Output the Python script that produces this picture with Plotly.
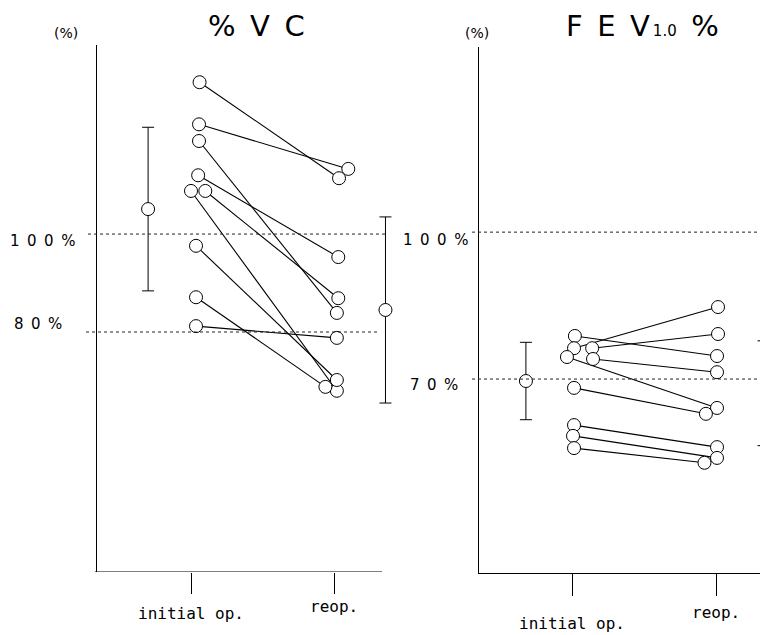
import plotly.graph_objects as go

# ---------------- data ----------------
categories = ["initial op.", "reop."]

# %VC panel (paired patients)
vc_initial = [131.0, 122.4, 119.0, 112.0, 108.8, 108.8, 97.6, 87.1, 81.2]
vc_reop = [111.4, 113.3, 83.9, 95.3, 68.0, 86.9, 70.2, 68.8, 78.8]
vc_initial_x = [1.06, 1.056, 1.056, 1.05, 1.0, 1.10, 1.035, 1.035, 1.035]
vc_reop_x = [2.035, 2.10, 2.02, 2.03, 2.02, 2.03, 2.02, 1.94, 2.02]
vc_mean = [105.1, 84.5]
vc_sd = [16.7, 19.0]
vc_mean_x = [0.70, 2.36]
vc_ref = [100, 80]
vc_ref_labels = ["1\u20020\u20020\u2002%", "8\u20020\u2002%"]

# FEV1.0% panel (paired patients)
fev_initial = [78.8, 76.3, 74.5, 76.3, 74.1, 68.2, 60.6, 58.4, 55.9]
fev_reop = [74.7, 84.7, 64.1, 79.2, 71.4, 62.9, 56.1, 53.9, 52.9]
fev_initial_x = [1.02, 1.014, 0.965, 1.14, 1.146, 1.014, 1.014, 1.007, 1.014]
fev_reop_x = [2.007, 2.014, 2.007, 2.014, 2.007, 1.93, 2.007, 2.007, 1.92]
fev_mean = [69.6, 67.1]
fev_sd = [7.9, 10.7]
fev_mean_x = [0.68, 2.33]
fev_ref = [100, 70]
fev_ref_labels = ["1\u20020\u20020\u2002%", "7\u20020\u2002%"]

W, H = 760, 635


def px(x):
    return x / W


def py(y):
    return 1 - y / H


fig = go.Figure()

LINE = dict(color="black", width=1.1)
MARK = dict(symbol="circle", size=13, color="white", line=dict(color="black", width=1.0))


def add_panel(xa, ya, xi, yi, xr, yr, mx, mm, msd):
    for a, b, c, d in zip(xi, yi, xr, yr):
        fig.add_trace(go.Scatter(x=[a, c], y=[b, d], mode="lines", line=LINE,
                                 xaxis=xa, yaxis=ya, hoverinfo="skip", cliponaxis=False))
    fig.add_trace(go.Scatter(x=list(xi) + list(xr), y=list(yi) + list(yr), mode="markers",
                             marker=MARK, xaxis=xa, yaxis=ya, cliponaxis=False))
    fig.add_trace(go.Scatter(x=mx, y=mm, mode="markers", marker=MARK,
                             error_y=dict(type="data", array=msd, color="black", thickness=1.0, width=6),
                             xaxis=xa, yaxis=ya, cliponaxis=False))


add_panel("x", "y", vc_initial_x, vc_initial, vc_reop_x, vc_reop, vc_mean_x, vc_mean, vc_sd)
add_panel("x2", "y2", fev_initial_x, fev_initial, fev_reop_x, fev_reop, fev_mean_x, fev_mean, fev_sd)

axis_common = dict(showgrid=False, zeroline=False, linecolor="black", linewidth=1.2)

# left panel x domain is wider than its drawn base line so the right mean bar fits
L_X0, L_X1 = 97, 405
L_R0 = 1 - (191 - L_X0) / 143.0
L_R1 = 2 + (L_X1 - 334) / 143.0
R_X0, R_X1 = 479, W
R_R0 = 1 - (572 - R_X0) / 144.0
R_R1 = 2 + (R_X1 - 716) / 144.0

fig.update_layout(
    width=W, height=H,
    margin=dict(l=0, r=0, t=0, b=0),
    paper_bgcolor="white", plot_bgcolor="white",
    showlegend=False,
    xaxis=dict(domain=[px(L_X0), px(L_X1)], range=[L_R0, L_R1], tickvals=[1, 2],
               ticks="outside", ticklen=21, tickwidth=1.2, tickcolor="black",
               showticklabels=False, showline=False, **axis_common),
    yaxis=dict(domain=[py(572), py(45)], range=[31.0, 138.6], showticklabels=False,
               ticks="", anchor="x", showline=True, **axis_common),
    xaxis2=dict(domain=[px(R_X0), 1.0], range=[R_R0, R_R1], tickvals=[1, 2],
                ticks="outside", ticklen=22, tickwidth=1.2, tickcolor="black",
                showticklabels=False, anchor="y2", showline=True, **axis_common),
    yaxis2=dict(domain=[py(573), py(47)], range=[30.4, 137.8], showticklabels=False,
                ticks="", anchor="x2", showline=True, **axis_common),
)

# base line of left panel
fig.add_shape(type="line", xref="paper", yref="y", x0=px(95), x1=px(382), y0=31.0, y1=31.0,
              line=dict(color="black", width=1.2))

# dotted reference lines
for v, x0, x1 in zip(vc_ref, [88, 86], [385, 380]):
    fig.add_shape(type="line", xref="paper", yref="y", x0=px(x0), x1=px(x1), y0=v, y1=v,
                  line=dict(color="#222", width=1, dash="dot"))
for v in fev_ref:
    fig.add_shape(type="line", xref="paper", yref="y2", x0=px(472), x1=1.0, y0=v, y1=v,
                  line=dict(color="#222", width=1, dash="dot"))

ann = []
LBL = dict(family="DejaVu Sans", size=15, color="black")
# y reference labels
for lab, v, xl in zip(vc_ref_labels, vc_ref, [8, 12]):
    ann.append(dict(text=lab, xref="paper", yref="y", x=px(xl), y=v, xanchor="left",
                    yanchor="middle", yshift=-7 if v == 100 else 8, showarrow=False, font=LBL))
for lab, v, xl in zip(fev_ref_labels, fev_ref, [401, 408]):
    ann.append(dict(text=lab, xref="paper", yref="y2", x=px(xl), y=v, xanchor="left",
                    yanchor="middle", yshift=-8 if v == 100 else -6, showarrow=False, font=LBL))

# (%) unit labels
for xc in [66, 477]:
    ann.append(dict(text="(%)", xref="paper", yref="paper", x=px(xc), y=py(33),
                    xanchor="center", yanchor="middle", showarrow=False,
                    font=dict(family="DejaVu Sans", size=14, color="black")))

# titles
ann.append(dict(text="%\u2002V\u2002C", xref="paper", yref="paper", x=px(256), y=py(26),
                xanchor="center", yanchor="middle", showarrow=False,
                font=dict(family="DejaVu Sans", size=29, color="black")))
ann.append(dict(text="F\u2002E\u2002V<span style='font-size:15px'>\u20091.0</span>\u2002%",
                xref="paper", yref="paper",
                x=px(642), y=py(26), xanchor="center", yanchor="middle", showarrow=False,
                font=dict(family="DejaVu Sans", size=29, color="black")))

# category labels
TK = dict(family="DejaVu Sans Mono", size=16, color="black")
for cat, xv, yp in zip(categories, [1, 2], [613, 606]):
    ann.append(dict(text=cat, xref="x", yref="paper", x=xv, y=py(yp), xanchor="center",
                    yanchor="middle", showarrow=False, font=TK))
for cat, xv, yp in zip(categories, [1, 2], [623, 612]):
    ann.append(dict(text=cat, xref="x2", yref="paper", x=xv, y=py(yp), xanchor="center",
                    yanchor="middle", showarrow=False, font=TK))

fig.update_layout(annotations=ann)

fig.write_html("out.html", config={"displayModeBar": False},
               post_script="document.body.style.margin='0';")
